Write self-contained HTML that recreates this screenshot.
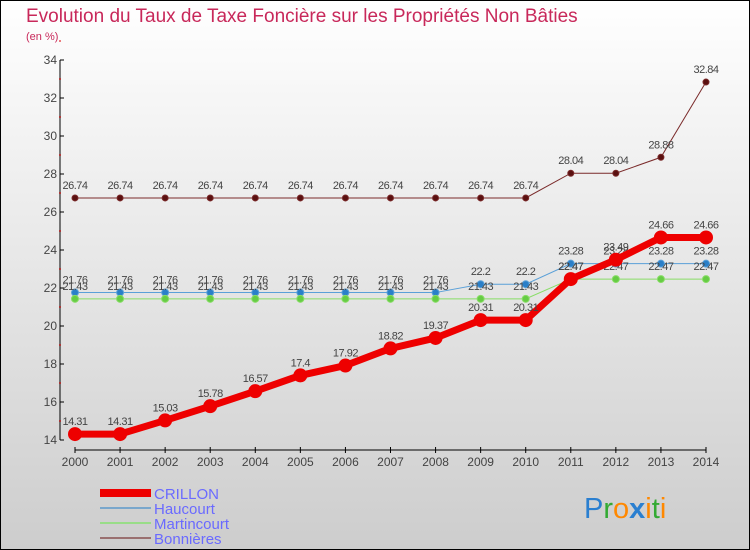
<!DOCTYPE html>
<html><head><meta charset="utf-8"><style>
html,body{margin:0;padding:0}
body{width:750px;height:550px;overflow:hidden;font-family:"Liberation Sans",sans-serif}
#wrap{position:absolute;left:0;top:0;width:748px;height:548px;border:1px solid #000;background:linear-gradient(#ffffff,#cdcdcd)}
</style></head><body>
<div id="wrap">
<svg id="chart" width="750" height="550" style="position:absolute;left:-1px;top:-1px">
<text x="26" y="22" font-size="19" fill="#c8285a">Evolution du Taux de Taxe Foncière sur les Propriétés Non Bâties</text>
<text x="26" y="40" font-size="11" fill="#c8285a">(en %)</text>
<g id="axes"></g><g id="series"></g>
<g>
<line x1="100" y1="493" x2="151" y2="493" stroke="#ee0000" stroke-width="8"/>
<text x="154" y="499" font-size="15" fill="#6a6aff">CRILLON</text>
<line x1="100" y1="508" x2="151" y2="508" stroke="#7aa7cc" stroke-width="2"/>
<text x="154" y="514" font-size="15" fill="#6a6aff">Haucourt</text>
<line x1="100" y1="523" x2="151" y2="523" stroke="#99dd88" stroke-width="2"/>
<text x="154" y="529" font-size="15" fill="#6a6aff">Martincourt</text>
<line x1="100" y1="538" x2="151" y2="538" stroke="#9a7070" stroke-width="2"/>
<text x="154" y="544" font-size="15" fill="#6a6aff">Bonnières</text>
</g>
<text x="584" y="518" font-size="29"><tspan fill="#2a7fd0">P</tspan><tspan fill="#33aa33">r</tspan><tspan fill="#ff8800">o</tspan><tspan fill="#2a7fd0" font-weight="bold">x</tspan><tspan fill="#ff8800">i</tspan><tspan fill="#33aa33">t</tspan><tspan fill="#ff8800">i</tspan></text>
</svg></div>
<script>
const years=[2000,2001,2002,2003,2004,2005,2006,2007,2008,2009,2010,2011,2012,2013,2014];
const yTicks=[14,16,18,20,22,24,26,28,30,32,34];
const crillon=[14.31,14.31,15.03,15.78,16.57,17.4,17.92,18.82,19.37,20.31,20.31,22.47,23.49,24.66,24.66];
const haucourt=[21.76,21.76,21.76,21.76,21.76,21.76,21.76,21.76,21.76,22.2,22.2,23.28,23.28,23.28,23.28];
const martincourt=[21.43,21.43,21.43,21.43,21.43,21.43,21.43,21.43,21.43,21.43,21.43,22.47,22.47,22.47,22.47];
const bonnieres=[26.74,26.74,26.74,26.74,26.74,26.74,26.74,26.74,26.74,26.74,26.74,28.04,28.04,28.88,32.84];
const NS='http://www.w3.org/2000/svg';
const xS=i=>75+i*(706-75)/(years.length-1);
const yS=v=>440-(v-14)*(440-60)/(34-14);
function mk(t,a,p){const e=document.createElementNS(NS,t);for(const k in a)e.setAttribute(k,a[k]);p.appendChild(e);return e;}
const ax=document.getElementById('axes');
const yl=mk('line',{x1:60,y1:yS(34),x2:60,y2:yS(14),stroke:'#000','stroke-width':1},ax);


yTicks.forEach(v=>{
 mk('line',{x1:60,y1:yS(v),x2:64,y2:yS(v),stroke:'#000'},ax);
 mk('line',{x1:59,y1:yS(v+1),x2:61,y2:yS(v+1),stroke:'#d00'},ax);
 const t=mk('text',{x:57,y:yS(v)+4,'font-size':12,fill:'#444','text-anchor':'end'},ax);
 t.textContent=v;
 
 
});
const xl=mk('line',{x1:xS(0),y1:450,x2:xS(14),y2:450,stroke:'#000','stroke-width':1},ax);


years.forEach((y,i)=>{
 mk('line',{x1:xS(i),y1:447,x2:xS(i),y2:453,stroke:'#000'},ax);
 const t=mk('text',{x:xS(i),y:466,'font-size':12,fill:'#444','text-anchor':'middle'},ax);
 t.textContent=y;
 
 
});
const sg=document.getElementById('series');
function draw(vals,color,w,r,name,dark){
 const g=mk('g',{},sg);
 
 
 mk('polyline',{points:vals.map((v,i)=>xS(i)+','+yS(v)).join(' '),fill:'none',stroke:color,'stroke-width':w},g);
 vals.forEach((v,i)=>{
  const c=mk('circle',{cx:xS(i),cy:yS(v),r:r,fill:dark,stroke:color,'stroke-width':1},g);
  
  
  const t=mk('text',{x:xS(i),y:yS(v)-9,'font-size':11,fill:'#444','text-anchor':'middle','letter-spacing':'-0.5'},g);
  t.textContent=v;
  
  
 });
}
draw(bonnieres,'#7a2a2a',1,3,'bonnieres','#5a1010');
draw(haucourt,'#5aa0d8',1,3.5,'haucourt','#2a7fc8');
draw(martincourt,'#88dd66',1,3.5,'martincourt','#66cc44');
draw(crillon,'#ee0000',7,6.5,'crillon','#ee0000');
</script>
</body></html>
